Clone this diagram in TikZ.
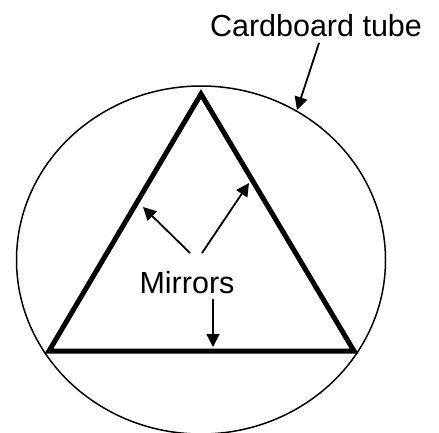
\documentclass[tikz,border=0pt]{standalone}
\usepackage{fontspec}
\setmainfont{Liberation Sans}
\usetikzlibrary{arrows.meta}
\begin{document}
\begin{tikzpicture}[x=1pt,y=-1pt,
  tube/.style={line width=1.5pt},
  mirror/.style={line width=5pt,line join=miter},
  pointer/.style={line width=1.8pt,-{Triangle[length=13pt,width=13pt]}},
  lbl/.style={inner sep=0pt,font=\fontsize{30.5}{30.5}\selectfont}]
\useasboundingbox (0,0) rectangle (439,432);
\draw[tube] (201,260) ellipse[x radius=184.5, y radius=174];
\coordinate (apex) at (201,94);
\coordinate (bl) at (49,351);
\coordinate (br) at (354,351);
\draw[mirror] (apex) -- (br) -- (bl) -- cycle;
\node[lbl,anchor=base] (mir) at (187,293) {Mirrors};
\node[lbl,anchor=base] (cb) at (316,36) {Cardboard tube};
\coordinate (m1s) at (190,253);
\coordinate (m1e) at (143,207);
\coordinate (m2s) at (202,253);
\coordinate (m2e) at (249,183);
\coordinate (m3s) at (213,299);
\coordinate (m3e) at (213,347);
\coordinate (cbs) at (319,43);
\coordinate (cbe) at (297,110);
\draw[pointer] (m1s) -- (m1e);
\draw[pointer] (m2s) -- (m2e);
\draw[pointer] (m3s) -- (m3e);
\draw[pointer] (cbs) -- (cbe);
\end{tikzpicture}
\end{document}
